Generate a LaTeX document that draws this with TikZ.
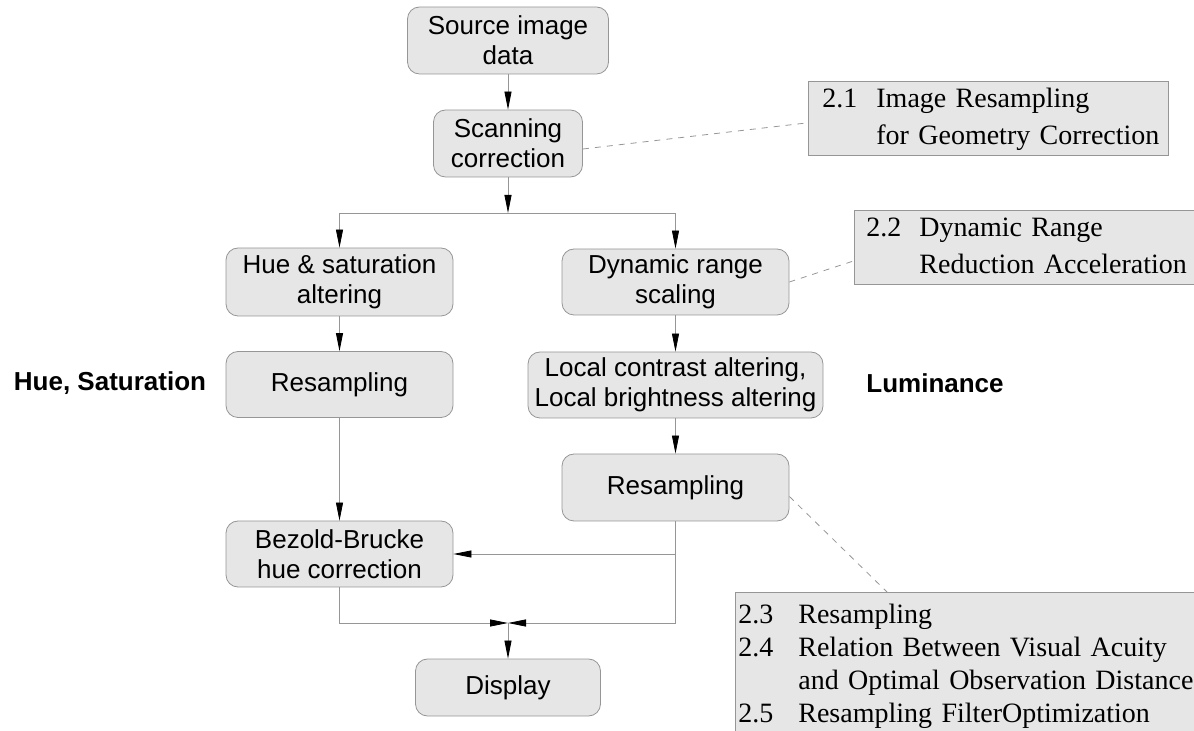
\documentclass[tikz,border=0pt]{standalone}
\usepackage{fontspec}
\setmainfont{Liberation Sans}
\newfontfamily\notefont{Liberation Serif}
\usetikzlibrary{arrows.meta}
\definecolor{boxfill}{RGB}{230,230,230}
\definecolor{boxline}{RGB}{150,150,150}

\begin{document}
\begin{tikzpicture}[x=0.5pt,y=-0.5pt,
    stage/.style={draw=boxline, fill=boxfill, rounded corners=6pt, inner sep=0pt, align=center, font=\fontsize{13}{15}\selectfont},
    note/.style={draw=boxline, fill=boxfill, anchor=north west, inner ysep=0pt, align=left, font=\notefont\fontsize{14}{18.5}\selectfont},
    flow/.style={draw=boxline, -{Triangle[length=9pt,width=3.5pt,color=black]}},
    link/.style={draw=boxline, dash pattern=on 3pt off 3pt},
    side/.style={font=\fontsize{13}{15}\selectfont\bfseries}]
        \useasboundingbox (0,0) rectangle (1194,731);
        % processing stages
        \node[stage, minimum width=100.5pt, minimum height=33.5pt] (src) at (508,40.5) {Source image\\data};
        \node[stage, minimum width=74.5pt, minimum height=33.5pt] (scan) at (508,143.5) {Scanning\\correction};
        \node[stage, minimum width=113.5pt, minimum height=34pt] (hue) at (339.5,282) {Hue \& saturation\\altering};
        \node[stage, minimum width=113.5pt, minimum height=33pt] (dyn) at (675.5,282) {Dynamic range\\scaling};
        \node[stage, minimum width=113.5pt, minimum height=33pt] (resL) at (339.5,384.5) {Resampling};
        \node[stage, minimum width=147.5pt, minimum height=33pt] (local) at (675.5,385) {Local contrast altering,\\Local brightness altering};
        \node[stage, minimum width=113.5pt, minimum height=33.5pt] (resR) at (675.5,487.5) {Resampling};
        \node[stage, minimum width=113.5pt, minimum height=33pt] (bezold) at (339.5,554) {Bezold-Brucke\\hue correction};
        \node[stage, minimum width=92.5pt, minimum height=28.5pt] (disp) at (508,687.5) {Display};
        % channel labels
        \node[side] (hs) at (110,383) {Hue, Saturation};
        \node[side] (lum) at (935,383) {Luminance};
        % section notes
        \node[note, text width=166pt, inner xsep=7pt, minimum height=37pt] (n21) at (808,81)
            {\begin{tabular}{@{}l@{\hspace{9.5pt}}l@{}}2.1 & Image Resampling\\ & for Geometry Correction\end{tabular}};
        \node[note, text width=159pt, inner xsep=6pt, minimum height=37pt] (n22) at (854,210)
            {\begin{tabular}{@{}l@{\hspace{9pt}}l@{}}2.2 & Dynamic Range\\ & Reduction Acceleration\end{tabular}};
        \node[note, text width=230pt, inner xsep=1.5pt, minimum height=74pt, font=\notefont\fontsize{14}{16.5}\selectfont] (n23) at (735,592)
            {\begin{tabular}{@{}l@{\hspace{12.5pt}}l@{}}2.3 & Resampling\\2.4 & Relation Between Visual Acuity\\ & and Optimal Observation Distance\\2.5 & Resampling FilterOptimization\end{tabular}};
        % connectors
        \coordinate (split) at (508,213);
        \coordinate (join) at (508,623);
        \draw[flow] (src) -- (scan);
        \draw[flow] (scan) -- (split);
        \draw[flow] (split) -| (hue);
        \draw[flow] (split) -| (dyn);
        \draw[flow] (hue) -- (resL);
        \draw[flow] (resL) -- (bezold);
        \draw[flow] (dyn) -- (local);
        \draw[flow] (local) -- (resR);
        \draw[flow] (resR.south) |- (bezold);
        \draw[flow] (resR.south) |- (join);
        \draw[flow] (bezold.south) |- (join);
        \draw[flow] (join) -- (disp);
        \draw[link] ([yshift=-2.75pt]scan.east) -- ([yshift=16.5pt]n21.south west);
        \draw[link] (dyn.east) -- ([yshift=12pt]n22.south west);
        \draw[link] ([yshift=-4.5pt]resR.east) -- ([xshift=76pt]n23.north west);
    \end{tikzpicture}
\end{document}
